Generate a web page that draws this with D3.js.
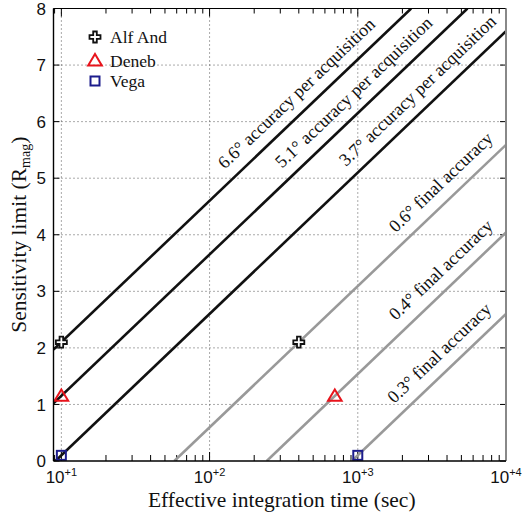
<!DOCTYPE html>
<html><head><meta charset="utf-8">
<script src="https://cdn.jsdelivr.net/npm/d3@7"></script>
<style>body{margin:0;background:#fff}</style>
</head><body>
<svg id="c" width="524" height="515"></svg>
<script>
// ---- data ----
const stars = ["Alf And", "Deneb", "Vega"];
const starMag = [2.1, 1.15, 0.1];
const acqTime = [10, 10, 10];
const finalTime = [400, 700, 1000];
const starColor = ["#111111", "#e8141c", "#1c1c8c"];
const starMarker = ["cross", "triangle", "square"];

const acqLabels = ["6.6° accuracy per acquisition", "5.1° accuracy per acquisition", "3.7° accuracy per acquisition"];
const acqStartT = [8.85, 8.85, 9.12];
const acqStartM = [1.97, 1.02, 0];
const acqEndT = [2291, 5495, 10000];
const acqEndM = [8, 8, 7.6];
const acqLabelT = [467, 1137, 3069];
const acqLabelM = [6.27, 6.29, 6.32];

const finLabels = ["0.6° final accuracy", "0.4° final accuracy", "0.3° final accuracy"];
const finStartT = [57.8, 243, 912];
const finStartM = [0, 0, 0];
const finEndT = [10000, 10000, 10000];
const finEndM = [5.59, 4.04, 2.6];
const finLabelT = [4400, 4400, 4300];
const finLabelM = [4.70, 3.15, 1.68];

const xMajor = [10, 100, 1000, 10000];
const xMajorExp = ["+1", "+2", "+3", "+4"];
const yTicks = [0, 1, 2, 3, 4, 5, 6, 7, 8];

// ---- layout ----
const L = 53.5, R = 506, T = 8.5, B = 461;
const x = d3.scaleLog().domain([8.85, 10000]).range([L, R]);
const y = d3.scaleLinear().domain([0, 8]).range([B, T]);
const svg = d3.select("#c");
const serif = "'Liberation Serif','Times New Roman',serif";
const sans = "'Liberation Sans',Arial,sans-serif";

svg.append("defs").append("clipPath").attr("id", "clip")
  .append("rect").attr("x", L).attr("y", T).attr("width", R - L).attr("height", B - T);

// grid
const grid = svg.append("g").attr("stroke", "#555").attr("stroke-width", 1).attr("stroke-dasharray", "1,3");
xMajor.filter(v => v < 10000).forEach(v => {
  grid.append("line").attr("x1", x(v)).attr("x2", x(v)).attr("y1", T).attr("y2", B);
});
yTicks.filter(v => v > 0 && v < 8).forEach(v => {
  grid.append("line").attr("x1", L).attr("x2", R).attr("y1", y(v)).attr("y2", y(v));
});

// minor / major ticks on x (bottom & top, inward)
const minorT = [];
[1, 10, 100, 1000].forEach(d => { for (let k = 2; k <= 9; k++) minorT.push(d * k); });
const dom = x.domain();
const ticks = svg.append("g").attr("stroke", "#000").attr("stroke-width", 1);
minorT.filter(v => v >= dom[0] && v <= dom[1]).forEach(v => {
  ticks.append("line").attr("x1", x(v)).attr("x2", x(v)).attr("y1", B).attr("y2", B - 6);
  ticks.append("line").attr("x1", x(v)).attr("x2", x(v)).attr("y1", T).attr("y2", T + 5);
});
xMajor.forEach(v => {
  ticks.append("line").attr("x1", x(v)).attr("x2", x(v)).attr("y1", B).attr("y2", B - 9);
  ticks.append("line").attr("x1", x(v)).attr("x2", x(v)).attr("y1", T).attr("y2", T + 8);
});
yTicks.forEach(v => {
  ticks.append("line").attr("x1", L).attr("x2", L + 6).attr("y1", y(v)).attr("y2", y(v));
  ticks.append("line").attr("x1", R).attr("x2", R - 6).attr("y1", y(v)).attr("y2", y(v));
});

// lines
const plot = svg.append("g").attr("clip-path", "url(#clip)");
const lineGen = d3.line().x(d => x(d[0])).y(d => y(d[1]));
acqLabels.forEach((lab, i) => {
  plot.append("path").datum([[acqStartT[i], acqStartM[i]], [acqEndT[i], acqEndM[i]]])
    .attr("d", lineGen).attr("stroke", "#111").attr("stroke-width", 2.6).attr("fill", "none");
});
finLabels.forEach((lab, i) => {
  plot.append("path").datum([[finStartT[i], finStartM[i]], [finEndT[i], finEndM[i]]])
    .attr("d", lineGen).attr("stroke", "#999").attr("stroke-width", 2.6).attr("fill", "none");
});

// line labels
function lineLabel(text, tx, tm, t0, m0, t1, m1) {
  const ang = Math.atan2(y(m1) - y(m0), x(t1) - x(t0)) * 180 / Math.PI;
  svg.append("text")
    .attr("transform", `translate(${x(tx)},${y(tm)}) rotate(${ang})`)
    .attr("y", -12).attr("text-anchor", "middle")
    .attr("font-family", serif).attr("font-size", 18).attr("fill", "#111")
    .text(text);
}
acqLabels.forEach((lab, i) => lineLabel(lab, acqLabelT[i], acqLabelM[i], acqStartT[i], acqStartM[i], acqEndT[i], acqEndM[i]));
finLabels.forEach((lab, i) => lineLabel(lab, finLabelT[i], finLabelM[i], finStartT[i], finStartM[i], finEndT[i], finEndM[i]));

// markers
function marker(g, type, cx, cy, color) {
  if (type === "cross") {
    const a = 1.8, b = 5.5;
    const pts = [[-a,-b],[a,-b],[a,-a],[b,-a],[b,a],[a,a],[a,b],[-a,b],[-a,a],[-b,a],[-b,-a],[-a,-a]];
    g.append("polygon").attr("points", pts.map(p => [cx + p[0], cy + p[1]].join(",")).join(" "))
      .attr("fill", "#fff").attr("stroke", color).attr("stroke-width", 1.8);
  } else if (type === "triangle") {
    const s = 6.5;
    g.append("polygon").attr("points", `${cx},${cy - s} ${cx + s * 1.05},${cy + s * 0.75} ${cx - s * 1.05},${cy + s * 0.75}`)
      .attr("fill", "none").attr("stroke", color).attr("stroke-width", 2);
  } else {
    const s = 4.5;
    g.append("rect").attr("x", cx - s).attr("y", cy - s).attr("width", 2 * s).attr("height", 2 * s)
      .attr("fill", "none").attr("stroke", color).attr("stroke-width", 2);
  }
}
const mk = svg.append("g");
stars.forEach((s, i) => {
  marker(mk, starMarker[i], x(acqTime[i]), y(starMag[i]), starColor[i]);
  marker(mk, starMarker[i], x(finalTime[i]), y(starMag[i]), starColor[i]);
});

// axes frame
svg.append("line").attr("x1", L).attr("x2", R).attr("y1", T).attr("y2", T).attr("stroke", "#000").attr("stroke-width", 1.2);
svg.append("line").attr("x1", R).attr("x2", R).attr("y1", T).attr("y2", B).attr("stroke", "#888").attr("stroke-width", 2);
svg.append("line").attr("x1", L).attr("x2", R).attr("y1", B).attr("y2", B).attr("stroke", "#000").attr("stroke-width", 1.4);
svg.append("line").attr("x1", L).attr("x2", L).attr("y1", T).attr("y2", B).attr("stroke", "#000").attr("stroke-width", 1.4);

// tick labels
yTicks.forEach(v => {
  svg.append("text").attr("x", 46).attr("y", y(v)).attr("dy", "0.36em").attr("text-anchor", "end")
    .attr("font-family", sans).attr("font-size", 17).attr("fill", "#111").text(v);
});
xMajor.forEach((v, i) => {
  const t = svg.append("text").attr("x", x(v)).attr("y", 482.5).attr("text-anchor", "middle")
    .attr("font-family", sans).attr("font-size", 17).attr("fill", "#111");
  t.append("tspan").text("10");
  t.append("tspan").attr("font-size", 11).attr("dy", -7).text(xMajorExp[i]);
});

// axis titles
svg.append("text").attr("x", (L + R) / 2 + 2).attr("y", 506.5).attr("text-anchor", "middle")
  .attr("font-family", serif).attr("font-size", 21.5).attr("fill", "#111")
  .text("Effective integration time (sec)");
const yt = svg.append("text").attr("transform", `translate(26,${(T + B) / 2}) rotate(-90)`)
  .attr("text-anchor", "middle").attr("font-family", serif).attr("font-size", 21.5).attr("fill", "#111");
yt.append("tspan").text("Sensitivity limit (R");
yt.append("tspan").attr("font-size", 14).attr("dy", 4).text("mag");
yt.append("tspan").attr("dy", -4).text(")");

// legend
const legY = [37, 60.5, 81];
stars.forEach((s, i) => {
  marker(svg, starMarker[i], 95, legY[i], starColor[i]);
  svg.append("text").attr("x", 110).attr("y", legY[i] + 6)
    .attr("font-family", serif).attr("font-size", 17.5).attr("fill", "#111").text(s);
});
</script>
</body></html>
